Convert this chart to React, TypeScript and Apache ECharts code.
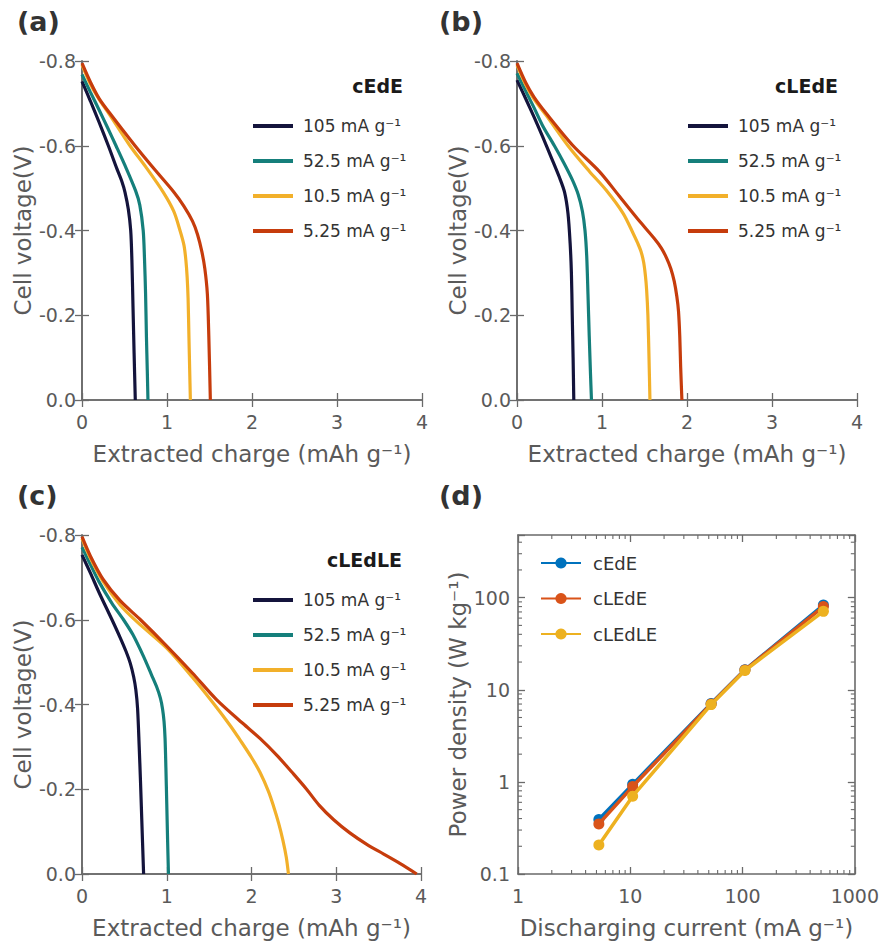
import React, { useEffect, useRef } from "react";
import * as echarts from "echarts";

// ---------- data ----------
const rateNames = ["105 mA g⁻¹", "52.5 mA g⁻¹", "10.5 mA g⁻¹", "5.25 mA g⁻¹"];
const rateColors = ["#14143c", "#157f7b", "#f2b02a", "#c63c0c"];
const panelTitles = ["cEdE", "cLEdE", "cLEdLE"];
const panelLabels = ["(a)", "(b)", "(c)", "(d)"];

// panel (a) cEdE : [extracted charge mAh/g, cell voltage V]
const a105 = [[0, -0.752], [0.1, -0.705], [0.2, -0.656], [0.31, -0.6], [0.41, -0.546], [0.47, -0.515], [0.506, -0.49], [0.545, -0.45], [0.573, -0.4], [0.587, -0.33], [0.6, -0.22], [0.613, -0.11], [0.627, 0]];
const a52 = [[0, -0.768], [0.1, -0.726], [0.2, -0.685], [0.3, -0.643], [0.4, -0.6], [0.5, -0.556], [0.63, -0.494], [0.68, -0.46], [0.72, -0.4], [0.735, -0.335], [0.748, -0.25], [0.758, -0.15], [0.768, -0.07], [0.776, 0]];
const a10 = [[0, -0.791], [0.1, -0.745], [0.2, -0.71], [0.33, -0.672], [0.565, -0.6], [0.75, -0.55], [0.957, -0.49], [1.08, -0.445], [1.153, -0.4], [1.2, -0.365], [1.222, -0.33], [1.237, -0.29], [1.248, -0.24], [1.258, -0.15], [1.267, -0.07], [1.275, 0]];
const a5 = [[0, -0.795], [0.1, -0.75], [0.2, -0.712], [0.33, -0.676], [0.624, -0.6], [0.85, -0.545], [1.075, -0.492], [1.2, -0.457], [1.3, -0.422], [1.36, -0.39], [1.41, -0.35], [1.445, -0.31], [1.475, -0.25], [1.492, -0.15], [1.51, 0]];

// panel (b) cLEdE
const b105 = [[0, -0.755], [0.1, -0.712], [0.2, -0.668], [0.3, -0.622], [0.4, -0.574], [0.5, -0.525], [0.56, -0.49], [0.6, -0.44], [0.625, -0.37], [0.64, -0.3], [0.65, -0.2], [0.66, -0.1], [0.668, 0]];
const b52 = [[0, -0.771], [0.1, -0.73], [0.2, -0.69], [0.3, -0.648], [0.44, -0.6], [0.55, -0.56], [0.65, -0.52], [0.72, -0.485], [0.77, -0.445], [0.8, -0.4], [0.82, -0.34], [0.835, -0.25], [0.85, -0.15], [0.865, -0.06], [0.876, 0]];
const b10 = [[0, -0.79], [0.1, -0.745], [0.2, -0.71], [0.35, -0.67], [0.6, -0.6], [0.85, -0.54], [1.05, -0.495], [1.25, -0.44], [1.367, -0.393], [1.42, -0.37], [1.46, -0.35], [1.49, -0.325], [1.51, -0.295], [1.525, -0.26], [1.54, -0.2], [1.553, -0.1], [1.564, 0]];
const b5 = [[0, -0.795], [0.1, -0.75], [0.2, -0.715], [0.35, -0.675], [0.66, -0.6], [0.97, -0.539], [1.2, -0.482], [1.45, -0.42], [1.62, -0.38], [1.7, -0.358], [1.76, -0.335], [1.81, -0.31], [1.85, -0.28], [1.88, -0.245], [1.9, -0.21], [1.915, -0.15], [1.925, -0.08], [1.94, 0]];

// panel (c) cLEdLE
const c105 = [[0, -0.753], [0.1, -0.71], [0.2, -0.665], [0.354, -0.6], [0.45, -0.558], [0.52, -0.525], [0.57, -0.497], [0.61, -0.465], [0.635, -0.435], [0.656, -0.39], [0.675, -0.3], [0.69, -0.22], [0.705, -0.13], [0.727, 0]];
const c52 = [[0, -0.771], [0.1, -0.73], [0.2, -0.69], [0.35, -0.64], [0.49, -0.6], [0.6, -0.565], [0.727, -0.513], [0.82, -0.47], [0.884, -0.44], [0.925, -0.415], [0.95, -0.39], [0.968, -0.36], [0.98, -0.32], [0.99, -0.25], [1.0, -0.167], [1.01, -0.08], [1.02, 0]];
const c10 = [[0, -0.792], [0.1, -0.745], [0.25, -0.69], [0.45, -0.635], [0.65, -0.595], [1.0, -0.533], [1.3, -0.465], [1.55, -0.403], [1.75, -0.35], [1.866, -0.316], [2.0, -0.275], [2.1, -0.24], [2.2, -0.195], [2.26, -0.16], [2.32, -0.12], [2.37, -0.08], [2.41, -0.04], [2.436, 0]];
const c5 = [[0, -0.796], [0.1, -0.75], [0.25, -0.695], [0.45, -0.645], [0.69, -0.6], [1.0, -0.538], [1.3, -0.475], [1.59, -0.411], [1.9, -0.355], [2.1, -0.32], [2.3, -0.28], [2.5, -0.235], [2.65, -0.2], [2.8, -0.162], [2.97, -0.128], [3.16, -0.097], [3.36, -0.07], [3.56, -0.047], [3.75, -0.025], [3.95, 0]];

const panelCurves = [
  [a105, a52, a10, a5],
  [b105, b52, b10, b5],
  [c105, c52, c10, c5],
];

// panel (d) power density vs discharging current
const currents = [5.25, 10.5, 52.5, 105, 525];
const powerNames = ["cEdE", "cLEdE", "cLEdLE"];
const powerColors = ["#0072bd", "#d95319", "#edb120"];
const powerCEdE = [0.39, 0.94, 7.1, 16.5, 83];
const powerCLEdE = [0.35, 0.89, 7.0, 16.4, 80];
const powerCLEdLE = [0.207, 0.7, 6.9, 16.2, 71];
const powerSets = [powerCEdE, powerCLEdE, powerCLEdLE];

const xMinorTicks = [2, 3, 4, 5, 6, 7, 8, 9, 20, 30, 40, 50, 60, 70, 80, 90, 200, 300, 400, 500, 600, 700, 800, 900];
const yMinorTicks = [0.2, 0.3, 0.4, 0.5, 0.6, 0.7, 0.8, 0.9, 2, 3, 4, 5, 6, 7, 8, 9, 20, 30, 40, 50, 60, 70, 80, 90, 200, 300, 400];

// ---------- layout ----------
const FONT = "'DejaVu Sans', 'Open Sans', sans-serif";
const AXIS_COLOR = "#6a6a6a";
const LABEL_COLOR = "#5a5a5a";
const grids = [
  { left: 82, top: 61, width: 340, height: 339 },
  { left: 517, top: 61, width: 340, height: 339 },
  { left: 82, top: 535, width: 339, height: 339 },
  { left: 518, top: 535, width: 339, height: 339 },
];
const D_YMIN = 0.1;
const D_YMAX = 479;

export default function App() {
  const ref = useRef<HTMLDivElement>(null);
  useEffect(() => {
    document.body.style.margin = "0";
    if (!ref.current) return;
    const chart = echarts.init(ref.current, null, { renderer: "svg" });

    const axisLine = { show: true, lineStyle: { color: AXIS_COLOR, width: 1.6 } };
    const tickIn = (len: number) => ({ show: true, inside: true, length: len, lineStyle: { color: AXIS_COLOR, width: 1.3 } });
    const labelStyle = { color: LABEL_COLOR, fontSize: 19, fontFamily: FONT };
    const nameStyle = { color: LABEL_COLOR, fontSize: 23, fontFamily: FONT };

    const xAxes: any[] = [];
    const yAxes: any[] = [];
    for (let i = 0; i < 3; i++) {
      xAxes.push({
        type: "value", gridIndex: i, min: 0, max: 4, interval: 1, position: "bottom",
        axisLine, axisTick: tickIn(7), splitLine: { show: false },
        axisLabel: { ...labelStyle, margin: 12 },
        name: "Extracted charge (mAh g⁻¹)", nameLocation: "middle", nameGap: 42, nameTextStyle: nameStyle,
      });
      xAxes.push({
        type: "value", gridIndex: i, min: 0, max: 4, interval: 1, position: "top",
        axisLine, axisTick: tickIn(7), splitLine: { show: false }, axisLabel: { show: false },
      });
      yAxes.push({
        type: "value", gridIndex: i, min: -0.8, max: 0, interval: 0.2, inverse: true, position: "left",
        axisLine, axisTick: tickIn(7), splitLine: { show: false },
        axisLabel: { ...labelStyle, margin: 6, formatter: (v: number) => v.toFixed(1) },
        name: "Cell voltage(V)", nameLocation: "middle", nameGap: 48, nameTextStyle: nameStyle,
      });
      yAxes.push({
        type: "value", gridIndex: i, min: -0.8, max: 0, interval: 0.2, inverse: true, position: "right",
        axisLine, axisTick: tickIn(7), splitLine: { show: false }, axisLabel: { show: false },
      });
    }
    const decadeLabel = (v: number) => {
      const l = Math.log10(v);
      if (Math.abs(l - Math.round(l)) > 1e-6) return "";
      const r = Math.round(l);
      return r < 0 ? "0.1" : String(Math.pow(10, r));
    };
    xAxes.push({
      type: "log", logBase: 10, gridIndex: 3, min: 1, max: 1000, position: "bottom",
      axisLine, axisTick: tickIn(7), splitLine: { show: false },
      axisLabel: { ...labelStyle, margin: 12, formatter: decadeLabel },
      name: "Discharging current (mA g⁻¹)", nameLocation: "middle", nameGap: 42, nameTextStyle: nameStyle,
    });
    xAxes.push({
      type: "log", logBase: 10, gridIndex: 3, min: 1, max: 1000, position: "top",
      axisLine, axisTick: tickIn(7), splitLine: { show: false }, axisLabel: { show: false },
    });
    yAxes.push({
      type: "log", logBase: 10, gridIndex: 3, min: D_YMIN, max: D_YMAX, position: "left",
      axisLine, axisTick: tickIn(7), splitLine: { show: false },
      axisLabel: { ...labelStyle, margin: 8, formatter: decadeLabel },
      name: "Power density (W kg⁻¹)", nameLocation: "middle", nameGap: 48, nameTextStyle: nameStyle,
    });
    yAxes.push({
      type: "log", logBase: 10, gridIndex: 3, min: D_YMIN, max: D_YMAX, position: "right",
      axisLine, axisTick: tickIn(7), splitLine: { show: false }, axisLabel: { show: false },
    });

    const series: any[] = [];
    panelCurves.forEach((curves, i) => {
      curves.forEach((data, j) => {
        series.push({
          type: "line", name: rateNames[j], xAxisIndex: 2 * i, yAxisIndex: 2 * i,
          data, smooth: 0.3, symbol: "none", showSymbol: false,
          lineStyle: { color: rateColors[j], width: 3.2 }, itemStyle: { color: rateColors[j] },
          z: 3,
        });
      });
    });

    const minorStyle = { stroke: AXIS_COLOR, lineWidth: 1.1 };
    series.push({
      type: "custom", name: "xminor", xAxisIndex: 6, yAxisIndex: 6, silent: true, z: 1,
      data: xMinorTicks.map((v) => [v, D_YMIN]),
      renderItem: (_p: any, api: any) => {
        const v = api.value(0);
        const b = api.coord([v, D_YMIN]);
        const t = api.coord([v, D_YMAX]);
        return {
          type: "group",
          children: [
            { type: "line", shape: { x1: b[0], y1: b[1], x2: b[0], y2: b[1] - 4 }, style: minorStyle },
            { type: "line", shape: { x1: t[0], y1: t[1], x2: t[0], y2: t[1] + 4 }, style: minorStyle },
          ],
        };
      },
    });
    series.push({
      type: "custom", name: "yminor", xAxisIndex: 6, yAxisIndex: 6, silent: true, z: 1,
      data: yMinorTicks.map((v) => [1, v]),
      renderItem: (_p: any, api: any) => {
        const v = api.value(1);
        const l = api.coord([1, v]);
        const r = api.coord([1000, v]);
        return {
          type: "group",
          children: [
            { type: "line", shape: { x1: l[0], y1: l[1], x2: l[0] + 4, y2: l[1] }, style: minorStyle },
            { type: "line", shape: { x1: r[0], y1: r[1], x2: r[0] - 4, y2: r[1] }, style: minorStyle },
          ],
        };
      },
    });

    powerSets.forEach((vals, k) => {
      series.push({
        type: "line", name: powerNames[k], xAxisIndex: 6, yAxisIndex: 6,
        data: currents.map((c, idx) => [c, vals[idx]]),
        symbol: "circle", symbolSize: 11, showSymbol: true,
        lineStyle: { color: powerColors[k], width: 3.5 }, itemStyle: { color: powerColors[k] },
        z: 3 + k,
      });
    });

    const labelPos = [
      { left: 17, top: 8 },
      { left: 439, top: 8 },
      { left: 17, top: 482 },
      { left: 439, top: 482 },
    ];
    const titles: any[] = panelLabels.map((t, i) => ({
      text: t, left: labelPos[i].left, top: labelPos[i].top, padding: 0,
      textStyle: { fontFamily: FONT, fontSize: 27, fontWeight: "bold", color: "#333333" },
    }));
    const headPos = [
      { right: 479, top: 76 },
      { right: 44, top: 76 },
      { right: 480, top: 550 },
    ];
    panelTitles.forEach((t, i) => {
      titles.push({
        text: t, right: headPos[i].right, top: headPos[i].top, padding: 0,
        textStyle: { fontFamily: FONT, fontSize: 19, fontWeight: "bold", color: "#1a1a1a" },
      });
    });

    const legendText = { fontFamily: FONT, fontSize: 17, color: "#333333", lineHeight: 20, padding: [0, 0, 0, 5] };
    const legendPos = [
      { left: 253, top: 116 },
      { left: 688, top: 116 },
      { left: 253, top: 590 },
    ];
    const legends: any[] = legendPos.map((p) => ({
      orient: "vertical", left: p.left, top: p.top, padding: 0, itemGap: 15,
      itemWidth: 40, itemHeight: 4, icon: "rect", data: rateNames,
      textStyle: legendText, selectedMode: false,
    }));
    legends.push({
      orient: "vertical", left: 540, top: 553, padding: 0, itemGap: 15.5,
      itemWidth: 40, itemHeight: 14, data: powerNames,
      textStyle: { ...legendText, fontSize: 18, padding: [0, 0, 0, 7] }, selectedMode: false,
    });

    chart.setOption({
      animation: false,
      backgroundColor: "#ffffff",
      title: titles,
      legend: legends,
      grid: grids.map((g) => ({ ...g, containLabel: false })),
      xAxis: xAxes,
      yAxis: yAxes,
      series,
    });
    return () => chart.dispose();
  }, []);
  return <div ref={ref} style={{ width: 882, height: 945 }} />;
}
